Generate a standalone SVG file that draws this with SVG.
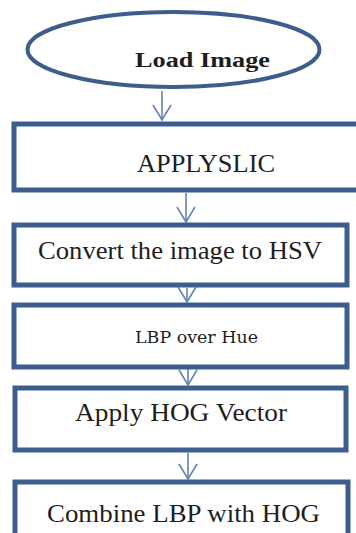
<svg xmlns="http://www.w3.org/2000/svg" width="356" height="533" viewBox="0 0 356 533">
  <style>
    .box { fill: #ffffff; stroke: #3d5d8c; stroke-width: 5; }
    .start { fill: #ffffff; stroke: #3d5d8c; stroke-width: 4; }
    .lbl { fill: #1e1e1e; font-family: "Liberation Serif", "Times New Roman", serif; }
    .slab { font-family: "DejaVu Serif", serif; }
    .edge { stroke: #6282b4; stroke-width: 1.6; fill: none; }
  </style>
  <defs>
    <marker id="vhead" markerUnits="userSpaceOnUse" viewBox="-17 -11 19 22" markerWidth="19" markerHeight="22" refX="0" refY="0" orient="auto" overflow="visible">
      <path d="M-15,-9 L0,0 L-15,9" fill="none" stroke="#6282b4" stroke-width="1.6"/>
    </marker>
  </defs>

  <rect width="356" height="533" fill="#ffffff"/>

  <!-- connectors -->
  <g id="connectors">
    <line class="edge" x1="162" y1="91" x2="162" y2="120" marker-end="url(#vhead)"/>
    <line class="edge" x1="186" y1="193" x2="186" y2="222" marker-end="url(#vhead)"/>
    <line class="edge" x1="187" y1="288" x2="187" y2="302" marker-end="url(#vhead)"/>
    <line class="edge" x1="188" y1="352" x2="188" y2="385" marker-end="url(#vhead)"/>
    <line class="edge" x1="188" y1="453" x2="188" y2="479" marker-end="url(#vhead)"/>
  </g>

  <!-- start node -->
  <g id="load-image">
    <ellipse class="start" cx="173.5" cy="49.5" rx="146" ry="37.5"/>
    <text class="lbl" x="135" y="67" font-size="22" font-weight="bold" textLength="135" lengthAdjust="spacingAndGlyphs">Load Image</text>
  </g>

  <g id="apply-slic">
    <rect class="box" x="14" y="124" width="350" height="66"/>
    <text class="lbl" x="137" y="172" font-size="26" textLength="138" lengthAdjust="spacingAndGlyphs">APPLYSLIC</text>
  </g>

  <g id="convert-hsv">
    <rect class="box" x="14" y="225" width="333" height="60"/>
    <text class="lbl" x="38" y="259" font-size="26" textLength="284" lengthAdjust="spacingAndGlyphs">Convert the image to HSV</text>
  </g>

  <g id="lbp-hue">
    <rect class="box" x="14" y="305" width="333" height="62"/>
    <text class="lbl slab" x="135" y="343" font-size="16" textLength="123" lengthAdjust="spacingAndGlyphs">LBP over Hue</text>
  </g>

  <g id="apply-hog">
    <rect class="box" x="15" y="388" width="331" height="62"/>
    <text class="lbl" x="75" y="421" font-size="26" textLength="212" lengthAdjust="spacingAndGlyphs">Apply HOG Vector</text>
  </g>

  <g id="combine">
    <rect class="box" x="15" y="482" width="333" height="70"/>
    <text class="lbl" x="47" y="522" font-size="26" textLength="273" lengthAdjust="spacingAndGlyphs">Combine LBP with HOG</text>
  </g>
</svg>
